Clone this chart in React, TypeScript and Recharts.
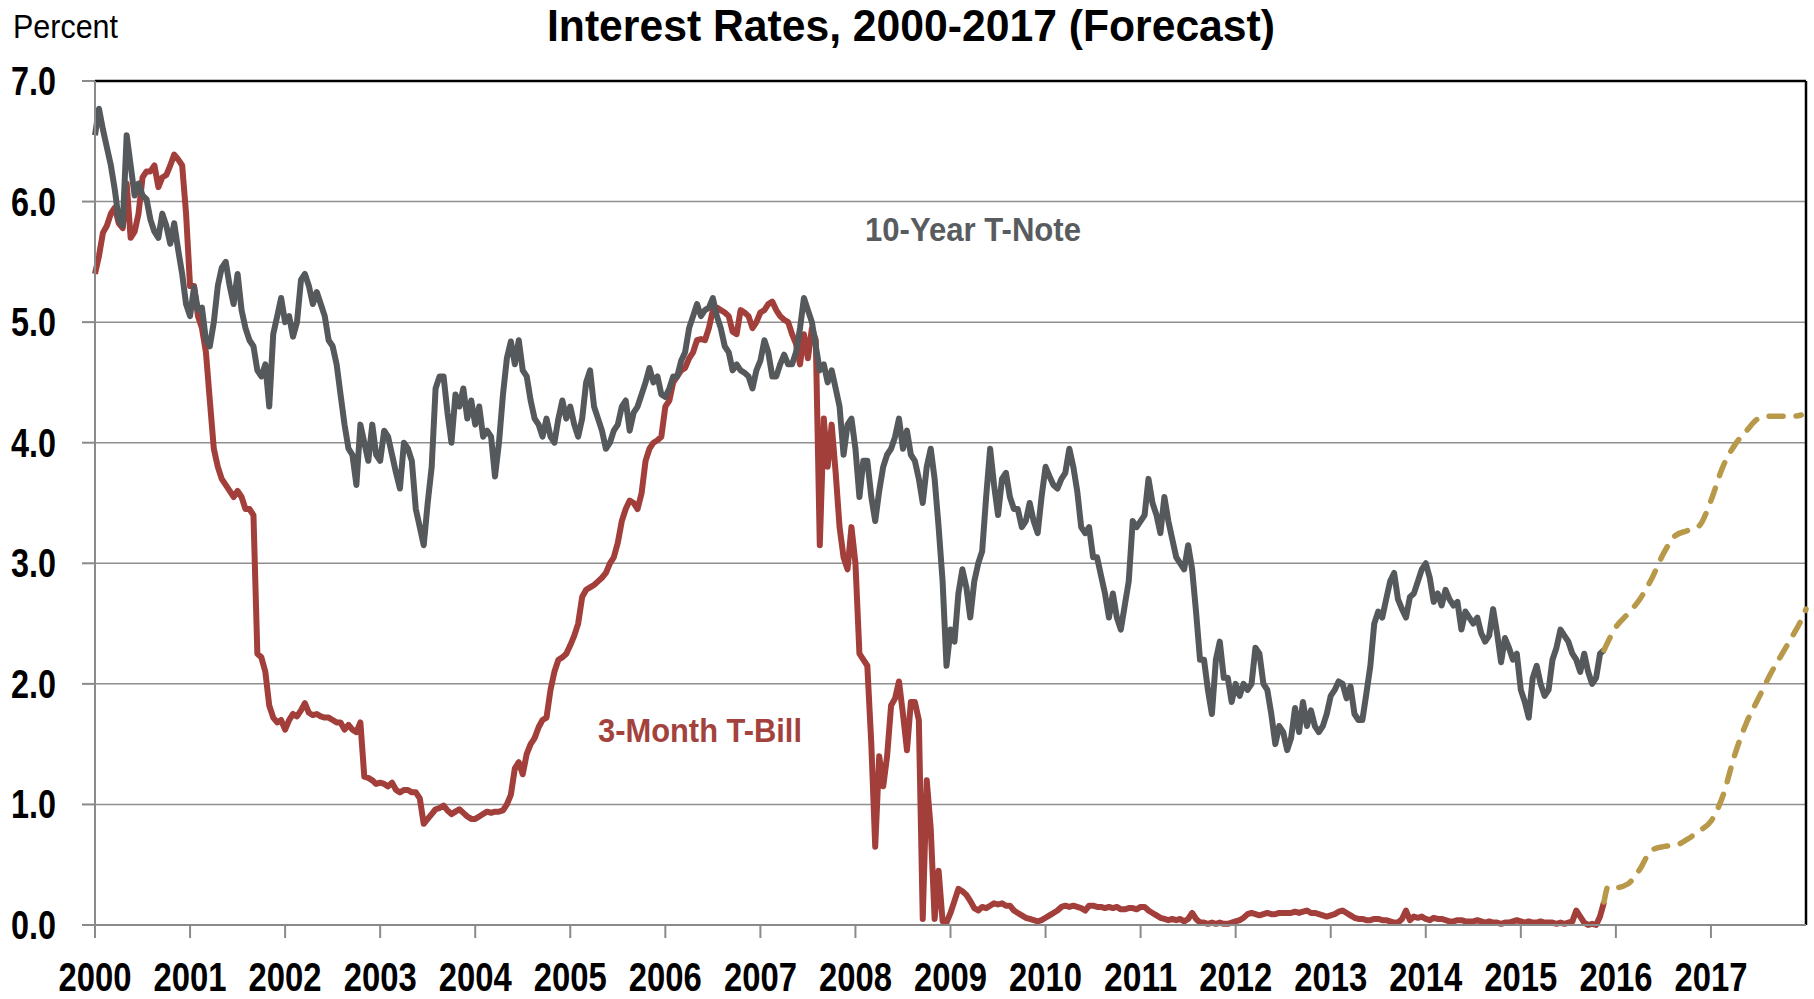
import React from 'react';
import { LineChart, Line, XAxis, YAxis, CartesianGrid, ReferenceLine } from 'recharts';

const years = [2000, 2001, 2002, 2003, 2004, 2005, 2006, 2007, 2008, 2009, 2010, 2011, 2012, 2013, 2014, 2015, 2016, 2017];
const yTicks = [0, 1, 2, 3, 4, 5, 6, 7];

// twice-monthly readings, first value = start of Jan 2000
const tNote = [
  6.55, 6.77, 6.6, 6.45, 6.3, 6.1, 5.85, 5.8, 6.55, 6.3, 6.05, 6.15, 6.05, 6.02, 5.85, 5.75, 5.7, 5.9, 5.8, 5.65, 5.82, 5.6, 5.4, 5.15,
  5.05, 5.29, 5.1, 5.12, 4.85, 4.8, 5.0, 5.3, 5.45, 5.5, 5.3, 5.15, 5.4, 5.1, 4.95, 4.85, 4.8, 4.6, 4.55, 4.65, 4.3, 4.9, 5.05, 5.2,
  5.0, 5.05, 4.88, 5.0, 5.35, 5.4, 5.3, 5.15, 5.25, 5.15, 5.05, 4.85, 4.8, 4.65, 4.4, 4.15, 3.95, 3.9, 3.65, 4.15, 4.0, 3.85, 4.15, 3.9,
  3.85, 4.1, 4.05, 3.9, 3.75, 3.62, 4.0, 3.95, 3.85, 3.45, 3.3, 3.15, 3.5, 3.8, 4.45, 4.55, 4.55, 4.25, 4.0, 4.4, 4.3, 4.45, 4.2, 4.35,
  4.15, 4.3, 4.05, 4.1, 4.05, 3.72, 4.0, 4.4, 4.7, 4.84, 4.65, 4.85, 4.6, 4.55, 4.35, 4.2, 4.15, 4.05, 4.2, 4.05, 4.0, 4.2, 4.35, 4.2,
  4.3, 4.15, 4.05, 4.2, 4.5, 4.6, 4.3, 4.2, 4.1, 3.95, 4.0, 4.1, 4.15, 4.3, 4.35, 4.1, 4.25, 4.3, 4.4, 4.5, 4.62, 4.5, 4.55, 4.4,
  4.38, 4.45, 4.55, 4.55, 4.68, 4.75, 4.95, 5.05, 5.15, 5.05, 5.1, 5.12, 5.2, 5.05, 4.95, 4.8, 4.75, 4.6, 4.65, 4.6, 4.58, 4.55, 4.45, 4.6,
  4.68, 4.85, 4.75, 4.55, 4.55, 4.65, 4.73, 4.65, 4.65, 4.75, 4.95, 5.2, 5.1, 5.0, 4.8, 4.6, 4.65, 4.5, 4.6, 4.45, 4.3, 3.9, 4.15, 4.2,
  3.95, 3.55, 3.85, 3.85, 3.55, 3.35, 3.6, 3.8, 3.9, 3.95, 4.05, 4.2, 3.95, 4.1, 3.9, 3.85, 3.7, 3.5, 3.8, 3.95, 3.7, 3.3, 2.85, 2.15,
  2.45, 2.35, 2.75, 2.95, 2.8, 2.55, 2.85, 3.0, 3.1, 3.55, 3.95, 3.65, 3.4, 3.7, 3.75, 3.55, 3.45, 3.45, 3.3, 3.35, 3.5, 3.35, 3.25, 3.55,
  3.8, 3.72, 3.65, 3.62, 3.7, 3.75, 3.95, 3.8, 3.6, 3.3, 3.25, 3.3, 3.05, 3.05, 2.9, 2.75, 2.55, 2.75, 2.55, 2.45, 2.65, 2.85, 3.35, 3.3,
  3.35, 3.4, 3.7, 3.5, 3.4, 3.25, 3.55, 3.35, 3.2, 3.05, 3.0, 2.95, 3.15, 2.95, 2.6, 2.2, 2.2, 1.95, 1.75, 2.2, 2.35, 2.05, 2.05, 1.85,
  2.0, 1.9, 2.0, 1.95, 2.0, 2.3, 2.25, 2.0, 1.95, 1.75, 1.5, 1.65, 1.6, 1.45, 1.55, 1.8, 1.6, 1.85, 1.65, 1.78, 1.65, 1.6, 1.65, 1.75,
  1.9, 1.95, 2.02, 2.0, 1.88, 1.98, 1.75, 1.7, 1.7, 1.92, 2.15, 2.5, 2.6, 2.55, 2.7, 2.85, 2.92, 2.7, 2.62, 2.55, 2.72, 2.75, 2.85, 2.95,
  3.0, 2.88, 2.68, 2.75, 2.65, 2.78, 2.7, 2.65, 2.68, 2.45, 2.6, 2.55, 2.5, 2.55, 2.42, 2.35, 2.4, 2.62, 2.42, 2.18, 2.38, 2.3, 2.2, 2.25,
  1.95, 1.85, 1.72, 2.05, 2.15, 2.0, 1.9, 1.95, 2.2, 2.3, 2.45, 2.4, 2.35, 2.25, 2.2, 2.1, 2.25, 2.1, 2.0, 2.05, 2.25, 2.28,
];

const tBill = [
  5.4, 5.55, 5.74, 5.8, 5.9, 5.95, 5.82, 5.78, 6.15, 5.7, 5.75, 5.9, 6.2, 6.25, 6.25, 6.3, 6.12, 6.2, 6.22, 6.3, 6.39, 6.35, 6.3, 5.9,
  5.3, 5.3, 5.05, 4.95, 4.75, 4.35, 3.95, 3.8, 3.7, 3.65, 3.6, 3.55, 3.6, 3.55, 3.45, 3.45, 3.4, 2.25, 2.22, 2.1, 1.82, 1.72, 1.68, 1.7,
  1.62, 1.7, 1.75, 1.73, 1.78, 1.84, 1.76, 1.74, 1.75, 1.73, 1.72, 1.72, 1.7, 1.68, 1.68, 1.62, 1.66, 1.62, 1.6, 1.68, 1.23, 1.22, 1.2, 1.17,
  1.18, 1.17, 1.15, 1.18, 1.12, 1.1, 1.12, 1.12, 1.1, 1.1, 1.05, 0.84, 0.88, 0.92, 0.96, 0.97, 0.99, 0.95, 0.92, 0.94, 0.96, 0.93, 0.9, 0.88,
  0.88, 0.9, 0.92, 0.94, 0.93, 0.94, 0.94, 0.95, 1.0, 1.08, 1.3, 1.35, 1.25, 1.42, 1.5, 1.55, 1.64, 1.7, 1.72, 1.95, 2.1, 2.2, 2.22, 2.25,
  2.32, 2.4, 2.5, 2.72, 2.78, 2.8, 2.82, 2.85, 2.88, 2.92, 3.0, 3.05, 3.17, 3.35, 3.45, 3.52, 3.5, 3.45, 3.58, 3.85, 3.95, 4.0, 4.02, 4.05,
  4.3, 4.35, 4.5, 4.55, 4.6, 4.62, 4.7, 4.75, 4.85, 4.86, 4.85, 4.95, 5.1, 5.12, 5.1, 5.08, 5.05, 4.92, 4.9, 5.1, 5.08, 5.05, 4.95, 5.0,
  5.08, 5.1, 5.15, 5.17, 5.1, 5.05, 5.02, 5.0, 4.9, 4.82, 4.65, 4.9, 4.7, 4.95, 4.85, 3.15, 4.2, 3.8, 4.15, 3.75, 3.3, 3.05, 2.95, 3.3,
  3.0, 2.25, 2.2, 2.15, 1.5, 0.65, 1.4, 1.15, 1.4, 1.82, 1.88, 2.02, 1.75, 1.45, 1.85, 1.85, 1.7, 0.05, 1.2, 0.8, 0.05, 0.45, 0.03, 0.02,
  0.1, 0.2, 0.3, 0.28, 0.25, 0.2, 0.14, 0.12, 0.15, 0.14, 0.16, 0.18, 0.17, 0.18, 0.16, 0.16, 0.12, 0.1, 0.08, 0.06, 0.05, 0.04, 0.03, 0.04,
  0.06, 0.08, 0.1, 0.12, 0.15, 0.16, 0.15, 0.16, 0.15, 0.14, 0.12, 0.16, 0.16, 0.15, 0.15, 0.14, 0.15, 0.14, 0.15, 0.13, 0.13, 0.14, 0.14, 0.13,
  0.15, 0.15, 0.12, 0.1, 0.08, 0.06, 0.05, 0.04, 0.05, 0.04, 0.05, 0.03, 0.05, 0.1, 0.05, 0.02, 0.02, 0.01, 0.02, 0.01, 0.02, 0.01, 0.01, 0.02,
  0.03, 0.04, 0.06, 0.09, 0.1, 0.09, 0.08, 0.09, 0.1, 0.09, 0.09, 0.1, 0.1, 0.1, 0.1, 0.11, 0.1, 0.11, 0.12, 0.1, 0.1, 0.09, 0.08, 0.07,
  0.08, 0.09, 0.11, 0.12, 0.1, 0.08, 0.06, 0.05, 0.05, 0.04, 0.04, 0.05, 0.05, 0.04, 0.04, 0.03, 0.02, 0.02, 0.05, 0.12, 0.04, 0.07, 0.06, 0.07,
  0.05, 0.04, 0.06, 0.05, 0.05, 0.04, 0.03, 0.03, 0.04, 0.04, 0.03, 0.03, 0.03, 0.04, 0.03, 0.02, 0.03, 0.02, 0.02, 0.01, 0.02, 0.02, 0.03, 0.04,
  0.03, 0.02, 0.03, 0.02, 0.02, 0.03, 0.02, 0.02, 0.02, 0.01, 0.02, 0.01, 0.02, 0.03, 0.12, 0.07, 0.02, 0.0, 0.01, 0.0, 0.07, 0.19,
];

// forecast path
const fcDates = [2015.875, 2015.92, 2016, 2016.125, 2016.25, 2016.375, 2016.5, 2016.625, 2016.75, 2016.875, 2017, 2017.125, 2017.25, 2017.375, 2017.5, 2017.625, 2017.75, 2017.875, 2017.95, 2018];
const fcNote = [2.28, null, 2.47, 2.58, 2.7, 2.87, 3.08, 3.23, 3.27, 3.31, 3.52, 3.8, 3.98, 4.1, 4.2, 4.22, 4.22, 4.22, 4.23, null];
const fcBill = [0.19, 0.32, 0.31, 0.34, 0.46, 0.62, 0.65, 0.66, 0.71, 0.78, 0.86, 1.07, 1.41, 1.68, 1.88, 2.08, 2.25, 2.42, 2.53, 2.62];

const rows = new Map<string, any>();
const put = (t: number, key: string, v: number | null) => {
  if (v == null) return;
  const k = t.toFixed(3);
  const r = rows.get(k) || { t: +k };
  r[key] = v;
  rows.set(k, r);
};
tNote.forEach((v, i) => put(2000 + i / 24, 'note', v));
tBill.forEach((v, i) => put(2000 + i / 24, 'bill', v));
fcDates.forEach((d, i) => {
  put(d, 'noteF', fcNote[i]);
  put(d, 'billF', fcBill[i]);
});
const data = Array.from(rows.values()).sort((a, b) => a.t - b.t);

const SANS = "'Liberation Sans', Arial, sans-serif";
const AXIS = '#8a8a8a';

// no narrow font installed, so squeeze the bold face to the reference widths
const XTick = ({ x, y, payload }: any) => (
  <text x={x} y={y + 53} textAnchor="middle" fontFamily={SANS} fontWeight="bold" fontSize={40} fill="#000"
    textLength={73} lengthAdjust="spacingAndGlyphs">
    {payload.value}
  </text>
);

const YTick = ({ x, y, payload }: any) => (
  <text x={x - 26} y={y + 14} textAnchor="end" fontFamily={SANS} fontWeight="bold" fontSize={41} fill="#000"
    textLength={45} lengthAdjust="spacingAndGlyphs">
    {payload.value.toFixed(1)}
  </text>
);

export default function App() {
  return (
    <div style={{ position: 'absolute', left: 0, top: 0, width: 1814, height: 999, background: '#fff' }}>
      <LineChart width={1814} height={999} data={data} margin={{ top: 81, right: 8, bottom: 0, left: 0 }}>
        <CartesianGrid vertical={false} stroke="#8f8f8f" strokeWidth={1.5} />
        <XAxis
          dataKey="t"
          type="number"
          domain={[2000, 2018]}
          ticks={years}
          interval={0}
          height={74}
          tickSize={13}
          tickMargin={0}
          axisLine={{ stroke: AXIS, strokeWidth: 2 }}
          tickLine={{ stroke: AXIS, strokeWidth: 2 }}
          tick={<XTick />}
        />
        <YAxis
          type="number"
          domain={[0, 7]}
          ticks={yTicks}
          interval={0}
          width={95}
          tickSize={13}
          tickMargin={0}
          axisLine={{ stroke: AXIS, strokeWidth: 2 }}
          tickLine={{ stroke: AXIS, strokeWidth: 2 }}
          tick={<YTick />}
        />
        <ReferenceLine y={7} stroke="#000" strokeWidth={2.5} />
        <ReferenceLine x={2018} stroke="#000" strokeWidth={2.5} />
        <Line dataKey="bill" stroke="#a23f3a" strokeWidth={6} strokeLinejoin="round" dot={false} activeDot={false} connectNulls isAnimationActive={false} />
        <Line dataKey="note" stroke="#55595c" strokeWidth={6} strokeLinejoin="round" dot={false} activeDot={false} connectNulls isAnimationActive={false} />
        <Line dataKey="noteF" type="monotone" stroke="#b8994a" strokeWidth={5.5} strokeDasharray="14 13" strokeLinecap="round" dot={false} activeDot={false} connectNulls isAnimationActive={false} />
        <Line dataKey="billF" type="monotone" stroke="#b8994a" strokeWidth={5.5} strokeDasharray="14 13" strokeLinecap="round" dot={false} activeDot={false} connectNulls isAnimationActive={false} />
      </LineChart>
      <svg width={1814} height={999} style={{ position: 'absolute', left: 0, top: 0, pointerEvents: 'none' }}>
        <text x={13} y={38} fontFamily={SANS} fontSize={34} fill="#000" textLength={105} lengthAdjust="spacingAndGlyphs">Percent</text>
        <text x={911} y={41} textAnchor="middle" fontFamily={SANS} fontWeight="bold" fontSize={45} fill="#000"
          textLength={728} lengthAdjust="spacingAndGlyphs">
          Interest Rates, 2000-2017 (Forecast)
        </text>
        <text x={973} y={241} textAnchor="middle" fontFamily={SANS} fontWeight="bold" fontSize={33} fill="#595c5f"
          textLength={216} lengthAdjust="spacingAndGlyphs">
          10-Year T-Note
        </text>
        <text x={700} y={742} textAnchor="middle" fontFamily={SANS} fontWeight="bold" fontSize={33} fill="#a3423c"
          textLength={204} lengthAdjust="spacingAndGlyphs">
          3-Month T-Bill
        </text>
      </svg>
    </div>
  );
}
